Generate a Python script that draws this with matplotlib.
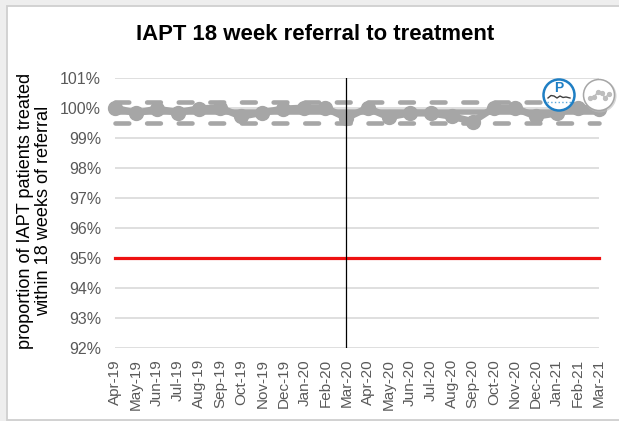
import matplotlib
matplotlib.use('Agg')
import matplotlib.pyplot as plt
from matplotlib.patches import Circle, Rectangle
import numpy as np

plt.rcParams['font.family'] = ['Liberation Sans', 'DejaVu Sans']

months = ['Apr-19', 'May-19', 'Jun-19', 'Jul-19', 'Aug-19', 'Sep-19', 'Oct-19', 'Nov-19',
          'Dec-19', 'Jan-20', 'Feb-20', 'Mar-20', 'Apr-20', 'May-20', 'Jun-20', 'Jul-20',
          'Aug-20', 'Sep-20', 'Oct-20', 'Nov-20', 'Dec-20', 'Jan-21', 'Feb-21', 'Mar-21']
values = [100.0, 99.83, 99.97, 99.85, 99.98, 100.0, 99.72, 99.85, 99.97, 100.0, 100.0, 99.67,
          100.0, 99.7, 99.83, 99.83, 99.72, 99.55, 100.0, 100.0, 99.72, 99.83, 100.0, 99.97]
mean_line = [99.88] * 24
ucl = [100.2] * 24
lcl = [99.5] * 24
target = [95] * 24
yticks = list(range(92, 102))
phase_change = 'Mar-20'

W, H = 619, 421
fig = plt.figure(figsize=(W / 100, H / 100), dpi=100, facecolor='#eeeeee')

# white chart area with its grey border (runs off the right side)
fig.add_artist(Rectangle((6.5 / W, 1 - 420 / H), 620 / W, 414.5 / H, transform=fig.transFigure,
                         facecolor='white', edgecolor='#cfcfcf', linewidth=1.3, zorder=-1))

ax = fig.add_axes([115 / W, 1 - 348 / H, 484 / W, 270 / H], facecolor='none')
x = np.arange(len(months))
grey = '#a6a6a6'

ax.set_ylim(92, 101)
ax.set_xlim(0, 23)
ax.set_yticks(yticks)
ax.set_yticklabels([f'{v}%' for v in yticks], fontsize=11.5, color='#595959')
ax.set_xticks(x)
ax.set_xticklabels(months, rotation=90, fontsize=11, color='#595959')
ax.tick_params(axis='y', length=0, pad=10)
ax.tick_params(axis='x', length=0, pad=8)
ax.grid(axis='y', color='#d9d9d9', linewidth=1.2)
ax.set_axisbelow(True)
for s in ax.spines.values():
    s.set_visible(False)

ax.plot(x, ucl, color=grey, linewidth=3.3, dashes=(3.0, 3.9), clip_on=False, dash_capstyle='round')
ax.plot(x, lcl, color=grey, linewidth=3.3, dashes=(3.0, 3.9), clip_on=False, dash_capstyle='round')
ax.plot(x, values, color=grey, linewidth=5, marker='o', markersize=10, clip_on=False, zorder=3)
ax.plot(x, mean_line, color=grey, linewidth=4, clip_on=False, zorder=3)
ax.plot(x, target, color='#ee1111', linewidth=2.3, clip_on=False, zorder=4)
ax.axvline(months.index(phase_change), color='black', linewidth=0.9, zorder=5)

fig.text(315 / W, 1 - 35 / H, 'IAPT 18 week referral to treatment', fontsize=15.9, fontweight='bold',
         ha='center', va='center', color='black')
fig.text(26 / W, 1 - 211 / H, 'proportion of IAPT patients treated',
         fontsize=13.1, rotation=90, ha='center', va='center', color='black')
fig.text(44 / W, 1 - 211 / H, 'within 18 weeks of referral',
         fontsize=13.1, rotation=90, ha='center', va='center', color='black')

# icons on top of the chart, in pixel coordinates
ov = fig.add_axes([0, 0, 1, 1], facecolor='none')
ov.set_xlim(0, W)
ov.set_ylim(H, 0)
ov.axis('off')
ov.add_patch(Circle((559, 95), 15.5, facecolor='white', edgecolor='#1f7fc4', linewidth=1.8))
ov.text(559, 88.5, 'P', fontsize=10, fontweight='bold', color='#1f7fc4', ha='center', va='center')
ov.plot([548, 551, 554, 557, 560, 563, 566, 570], [98, 95.5, 96, 98, 96, 97.5, 97, 98], color='#404040', linewidth=1)
ov.plot([547, 571], [101.5, 101.5], color='#5aa9dd', linewidth=1, linestyle=':')
ov.add_patch(Circle((600, 96), 16.5, facecolor='#bdbdbd', edgecolor='none', alpha=0.6))
ov.add_patch(Circle((599, 95), 15.5, facecolor='white', edgecolor='#a6a6a6', linewidth=1.1))
ov.plot([590, 594, 598, 602, 605, 609], [98, 97, 92, 93, 98, 94], color='#bdbdbd', linewidth=1.2, marker='o', markersize=2.8)

fig.savefig('out.png', dpi=100, facecolor=fig.get_facecolor())
plt.close(fig)
